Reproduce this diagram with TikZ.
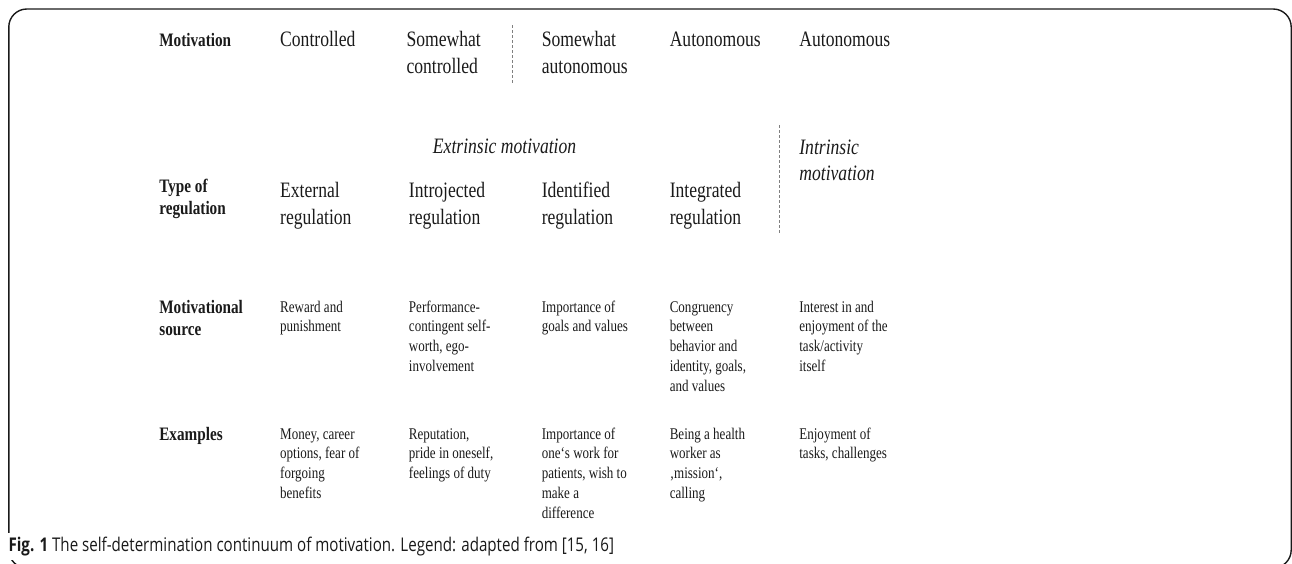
\documentclass[tikz,border=0pt]{standalone}
\usepackage{fontspec}
\setmainfont{Liberation Serif}
\newfontfamily\capfont{Open Sans}
\newcommand\mlines[1]{\begin{tabular}[t]{@{}l@{}}#1\end{tabular}}
\definecolor{ink}{HTML}{1A1A1A}
\definecolor{dashgray}{HTML}{808080}
\tikzset{
  base/.style={anchor=base west, inner sep=0pt, text=ink},
  big/.style={base, font=\fontsize{22}{27}\selectfont},
  bigit/.style={base, font=\fontsize{22}{26}\selectfont\itshape},
  hdr/.style={base, font=\fontsize{19}{22.5}\selectfont\bfseries},
  small/.style={base, font=\fontsize{16.3}{19.9}\selectfont},
  divider/.style={draw=dashgray, line width=0.8pt, dash pattern=on 3pt off 2pt},
  frame/.style={draw=ink, line width=1.4pt, rounded corners=18pt},
}
\begin{document}
\begin{tikzpicture}[x=1pt,y=-1pt,xscale=0.8,every node/.append style={transform shape}]
\useasboundingbox (0,0) rectangle (1615,563);
\draw[frame] (11,9) rectangle (1614,568);

% row 1
\node[hdr] (h1) at (199,46) {Motivation};
\node[big] (m1) at (350,46) {Controlled};
\node[big] (m2) at (508,46) {\mlines{Somewhat\\controlled}};
\node[big] (m3) at (677,46) {\mlines{Somewhat\\autonomous}};
\node[big] (m4) at (837,46) {Autonomous};
\node[big] (m5) at (999,46) {Autonomous};
\coordinate (d1a) at (641,25);
\coordinate (d1b) at (641,84);
\draw[divider] (d1a) -- (d1b);

% row 2
\node[bigit] (ext) at (541,153) {Extrinsic motivation};
\node[bigit] (intr) at (999,154) {\mlines{Intrinsic\\motivation}};
\node[hdr] (h2) at (199,192) {\mlines{Type of\\regulation}};
\node[big] (r1) at (350,197) {\mlines{External\\regulation}};
\node[big] (r2) at (511,197) {\mlines{Introjected\\regulation}};
\node[big] (r3) at (677,197) {\mlines{Identified\\regulation}};
\node[big] (r4) at (837,197) {\mlines{Integrated\\regulation}};
\coordinate (d2a) at (974,125);
\coordinate (d2b) at (974,233);
\draw[divider] (d2a) -- (d2b);

% row 3
\node[hdr] (h3) at (199,313) {\mlines{Motivational\\source}};
\node[small] (s1) at (350,312) {\mlines{Reward and\\punishment}};
\node[small] (s2) at (511,312) {\mlines{Performance-\\contingent self-\\worth, ego-\\involvement}};
\node[small] (s3) at (677,312) {\mlines{Importance of\\goals and values}};
\node[small] (s4) at (837,312) {\mlines{Congruency\\between\\behavior and\\identity, goals,\\and values}};
\node[small] (s5) at (999,312) {\mlines{Interest in and\\enjoyment of the\\task/activity\\itself}};

% row 4
\node[hdr] (h4) at (199,440) {Examples};
\node[small] (e1) at (350,439) {\mlines{Money, career\\options, fear of\\forgoing\\benefits}};
\node[small] (e2) at (511,439) {\mlines{Reputation,\\pride in oneself,\\feelings of duty}};
\node[small] (e3) at (677,439) {\mlines{Importance of\\one‘s work for\\patients, wish to\\make a\\difference}};
\node[small] (e4) at (837,439) {\mlines{Being a health\\worker as\\‚mission‘,\\calling}};
\node[small] (e5) at (999,439) {\mlines{Enjoyment of\\tasks, challenges}};

% caption
\node[anchor=base west, fill=white, inner xsep=1.5pt, inner ysep=4pt, text=ink,
      font=\capfont\fontsize{18.9}{21}\selectfont] (cap) at (9,551)
  {\textbf{Fig. 1} The self-determination continuum of motivation. Legend: adapted from [15, 16]};
\end{tikzpicture}
\end{document}
